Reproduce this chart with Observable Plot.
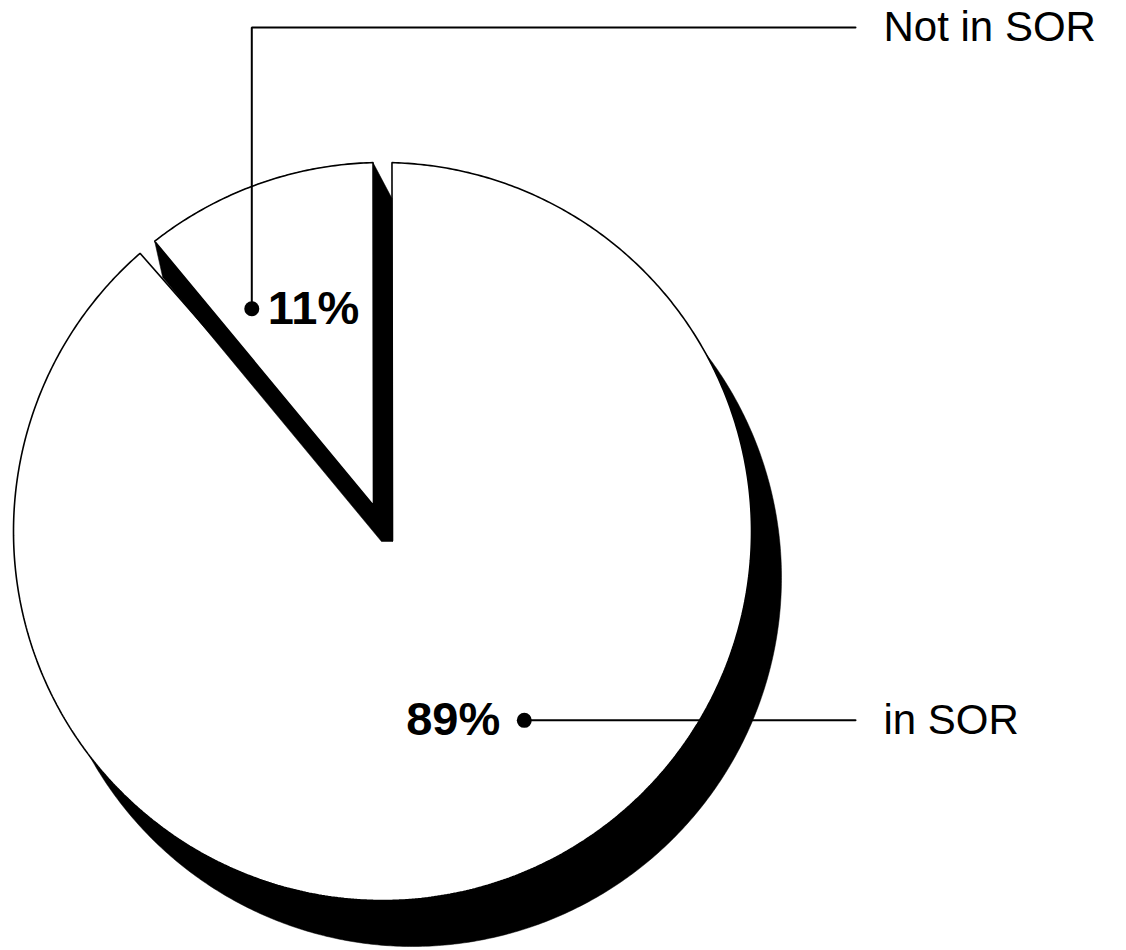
<!DOCTYPE html>
<html>
<head>
<meta charset="utf-8">
<script src="https://cdn.jsdelivr.net/npm/d3@7"></script>
<script src="https://cdn.jsdelivr.net/npm/@observablehq/plot@0.6"></script>
<style>
  html, body { margin: 0; padding: 0; background: #fff; }
  #chart svg { display: block; }
</style>
</head>
<body>
<div id="chart"></div>
<script>
// ---- data ----
const categories = ["in SOR", "Not in SOR"];
const shares = [89, 11];
const shareLabels = ["89%", "11%"];

// ---- layout / style (pixels) ----
const W = 1126, H = 950;
const pie = { cx: 382, cy: 531, r: 369, gapDeg: 1.47 };
const vertexShift = { "in SOR": [10, 9], "Not in SOR": [-9, -26] };
const shadowOffsets = { "in SOR": [[30, 46]], "Not in SOR": [[0, 0], [19, 36], [8, 36]] };
const labelAnchor = { "in SOR": { deg: 143.1, rf: 0.64 }, "Not in SOR": { deg: -30.4, rf: 0.70 } };
const leaderElbowY = { "in SOR": null, "Not in SOR": 27 };
const catLabelDy = { "in SOR": 0, "Not in SOR": 0 };
const leaderEndX = 855, catLabelX = 883;
const font = "'Liberation Sans', Arial, Helvetica, sans-serif";

// ---- geometry ----
const total = d3.sum(shares);
let acc = 0;
const slices = categories.map((c, i) => {
  const a0 = acc / total * 360; acc += shares[i];
  const a1 = acc / total * 360;
  return { c, a0, a1, share: shares[i], label: shareLabels[i] };
});

const rad = d => d * Math.PI / 180;
function ring(s) {
  const [dx, dy] = vertexShift[s.c];
  const pts = [[pie.cx + dx, pie.cy + dy]];
  const b0 = s.a0 + pie.gapDeg, b1 = s.a1 - pie.gapDeg;
  const n = Math.ceil((b1 - b0) / 0.5);
  for (let k = 0; k <= n; k++) {
    const a = rad(b0 + (b1 - b0) * k / n);
    pts.push([pie.cx + pie.r * Math.sin(a), pie.cy - pie.r * Math.cos(a)]);
  }
  pts.push(pts[0]);
  return pts;
}
function shadowPoly(s) {
  const pts = ring(s);
  const offs = shadowOffsets[s.c];
  if (offs.length === 1) return pts.map(p => [p[0] + offs[0][0], p[1] + offs[0][1]]);
  const sums = pts.slice(0, -1).flatMap(p => offs.map(o => [p[0] + o[0], p[1] + o[1]]));
  const hull = d3.polygonHull(sums);
  hull.push(hull[0]);
  return hull;
}
const toU = ([px, py]) => ({ x: (px - pie.cx) / pie.r, y: (py - pie.cy) / pie.r });
const rows = (pts, id) => pts.map(p => ({ ...toU(p), id }));

const order = slices.slice().sort((a, b) => b.share - a.share);
const sliceMarks = order.flatMap(s => [
  Plot.line(rows(shadowPoly(s), s.c + "-shadow"), { x: "x", y: "y", z: "id", fill: "black", stroke: "black", strokeWidth: 0.5, curve: "linear" }),
  Plot.line(rows(ring(s), s.c), { x: "x", y: "y", z: "id", fill: "white", stroke: "black", strokeWidth: 1.6, curve: "linear", strokeLinejoin: "miter" })
]);

// anchors for labels
const anchors = slices.map(s => {
  const a = labelAnchor[s.c];
  const rr = pie.r * a.rf;
  const p = [pie.cx + rr * Math.sin(rad(a.deg)), pie.cy - rr * Math.cos(rad(a.deg))];
  return { ...s, px: p };
});

const leaderRows = anchors.flatMap(s => {
  const pts = [s.px];
  const ey = leaderElbowY[s.c];
  if (ey != null) { pts.push([s.px[0], ey]); pts.push([leaderEndX, ey]); }
  else pts.push([leaderEndX, s.px[1]]);
  return rows(pts, s.c);
});

const dotRows = anchors.map(s => ({ ...toU(s.px), c: s.c }));
const pctRows = anchors.map(s => {
  const left = s.px[0] < pie.cx;
  return { ...toU([s.px[0] + (left ? 16 : -24), s.px[1]]), t: s.label, anchor: left ? "start" : "end" };
});
const catRows = anchors.map(s => {
  const ey = leaderElbowY[s.c];
  const y = (ey != null ? ey : s.px[1]) + catLabelDy[s.c];
  return { ...toU([catLabelX, y]), t: s.c };
});

const chart = Plot.plot({
  width: W, height: H,
  marginTop: 0, marginRight: 0, marginBottom: 0, marginLeft: 0,
  x: { domain: [-pie.cx / pie.r, (W - pie.cx) / pie.r], range: [0, W], axis: null },
  y: { domain: [-pie.cy / pie.r, (H - pie.cy) / pie.r], range: [0, H], axis: null },
  style: { background: "white", fontFamily: font },
  marks: [
    ...sliceMarks,
    Plot.line(leaderRows, { x: "x", y: "y", z: "id", stroke: "black", strokeWidth: 2, curve: "linear", strokeLinejoin: "miter" }),
    Plot.dot(dotRows, { x: "x", y: "y", r: 7.5, fill: "black", stroke: "none" }),
    Plot.text(pctRows.filter(d => d.anchor === "start"), { x: "x", y: "y", text: "t", textAnchor: "start", lineAnchor: "middle", fontSize: 47, fontWeight: "bold", fill: "black", fontFamily: font }),
    Plot.text(pctRows.filter(d => d.anchor === "end"), { x: "x", y: "y", text: "t", textAnchor: "end", lineAnchor: "middle", fontSize: 47, fontWeight: "bold", fill: "black", fontFamily: font }),
    Plot.text(catRows, { x: "x", y: "y", text: "t", textAnchor: "start", lineAnchor: "middle", fontSize: 42, fill: "black", fontFamily: font })
  ]
});
document.getElementById("chart").appendChild(chart);
</script>
</body>
</html>
